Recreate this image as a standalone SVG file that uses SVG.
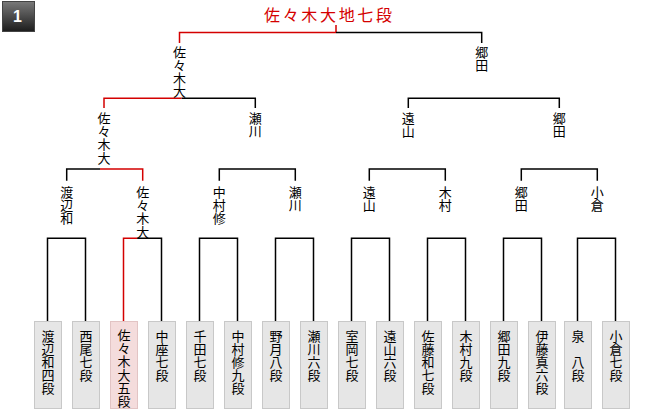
<svg xmlns="http://www.w3.org/2000/svg" width="660" height="410" viewBox="0 0 660 410">
<defs>
<linearGradient id="badgeGrad" x1="0" y1="0" x2="0" y2="1">
<stop offset="0" stop-color="#7a7a7a"/>
<stop offset="1" stop-color="#1c1c1c"/>
</linearGradient>
<style>
.lbl{font-family:"Noto Sans CJK JP","Liberation Sans",sans-serif;font-size:13px;fill:#000;text-anchor:middle}
.champ{font-family:"Noto Sans CJK JP","Liberation Sans",sans-serif;font-size:16px;fill:#d40000}
.box{fill:#e6e6e6;stroke:#c8c8c8;stroke-width:1}
.boxw{fill:#f4dcdc;stroke:#e2c4c4;stroke-width:1}
.ln{fill:none;stroke:#000;stroke-width:1.5}
.lr{fill:none;stroke:#d40000;stroke-width:1.5}
</style>
</defs>
<rect width="660" height="410" fill="#fff"/>
<g id="badge">
<rect x="2.5" y="1.5" width="32" height="30" fill="url(#badgeGrad)" stroke="#444" stroke-width="1"/>
<text x="17.5" y="22" font-family="Liberation Sans, sans-serif" font-size="16" font-weight="bold" fill="#fff" text-anchor="middle">1</text>
</g>
<g id="connectors">
<path class="lr" d="M336,25 V32.5 M179.5,43 V32.5 H336"/>
<path class="ln" d="M336,32.5 H481.7 V43"/>
<path class="lr" d="M104,108 V98.3 H181.7"/>
<path class="ln" d="M181.7,98.3 H255.3 V108"/>
<path class="ln" d="M408.3,108 V98.3 H559.3 V108"/>
<path class="ln" d="M66.7,180.7 V169 H100"/>
<path class="lr" d="M100,169 H142.7 V180.7"/>
<path class="ln" d="M219.3,180.7 V169 H295.3 V180.7"/>
<path class="ln" d="M369.3,180.7 V169 H445.3 V180.7"/>
<path class="ln" d="M521.3,180.7 V169 H597.3 V180.7"/>
<path class="ln" d="M47.5,321 V238.3 H85.5 V321"/>
<path class="lr" d="M123.5,321 V238.3 H137.3"/>
<path class="ln" d="M137.3,238.3 H161.5 V321"/>
<path class="ln" d="M199.5,321 V238.3 H237.5 V321"/>
<path class="ln" d="M275.5,321 V238.3 H313.5 V321"/>
<path class="ln" d="M351.5,321 V238.3 H389.5 V321"/>
<path class="ln" d="M427.5,321 V238.3 H465.5 V321"/>
<path class="ln" d="M503.5,321 V238.3 H541.5 V321"/>
<path class="ln" d="M577.5,321 V238.3 H615.5 V321"/>
</g>
<g id="champion"><text class="champ" x="264" y="20.5" textLength="128" lengthAdjust="spacing">佐々木大地七段</text></g>
<g id="r0-sasaki"><text class="lbl" x="179.5" y="56.5"><tspan x="179.5">佐</tspan><tspan x="179.5" dy="13.2">々</tspan><tspan x="179.5" dy="13.2">木</tspan><tspan x="179.5" dy="13.2">大</tspan></text></g>
<g id="r0-goda"><text class="lbl" x="481.7" y="57"><tspan x="481.7">郷</tspan><tspan x="481.7" dy="13.2">田</tspan></text></g>
<g id="r1-sasaki"><text class="lbl" x="104" y="123"><tspan x="104">佐</tspan><tspan x="104" dy="13.2">々</tspan><tspan x="104" dy="13.2">木</tspan><tspan x="104" dy="13.2">大</tspan></text></g>
<g id="r1-segawa"><text class="lbl" x="255.3" y="123"><tspan x="255.3">瀬</tspan><tspan x="255.3" dy="13.2">川</tspan></text></g>
<g id="r1-toyama"><text class="lbl" x="408.3" y="123"><tspan x="408.3">遠</tspan><tspan x="408.3" dy="13.2">山</tspan></text></g>
<g id="r1-goda"><text class="lbl" x="559.3" y="123"><tspan x="559.3">郷</tspan><tspan x="559.3" dy="13.2">田</tspan></text></g>
<g id="r2-watanabe"><text class="lbl" x="66.7" y="197"><tspan x="66.7">渡</tspan><tspan x="66.7" dy="13.2">辺</tspan><tspan x="66.7" dy="13.2">和</tspan></text></g>
<g id="r2-sasaki"><text class="lbl" x="142.7" y="197"><tspan x="142.7">佐</tspan><tspan x="142.7" dy="13.2">々</tspan><tspan x="142.7" dy="13.2">木</tspan><tspan x="142.7" dy="13.2">大</tspan></text></g>
<g id="r2-nakamura"><text class="lbl" x="219.3" y="197"><tspan x="219.3">中</tspan><tspan x="219.3" dy="13.2">村</tspan><tspan x="219.3" dy="13.2">修</tspan></text></g>
<g id="r2-segawa"><text class="lbl" x="295.3" y="197"><tspan x="295.3">瀬</tspan><tspan x="295.3" dy="13.2">川</tspan></text></g>
<g id="r2-toyama"><text class="lbl" x="369.3" y="197"><tspan x="369.3">遠</tspan><tspan x="369.3" dy="13.2">山</tspan></text></g>
<g id="r2-kimura"><text class="lbl" x="445.3" y="197"><tspan x="445.3">木</tspan><tspan x="445.3" dy="13.2">村</tspan></text></g>
<g id="r2-goda"><text class="lbl" x="521.3" y="197"><tspan x="521.3">郷</tspan><tspan x="521.3" dy="13.2">田</tspan></text></g>
<g id="r2-ogura"><text class="lbl" x="597.3" y="197"><tspan x="597.3">小</tspan><tspan x="597.3" dy="13.2">倉</tspan></text></g>
<g id="p01"><rect class="box" x="34.5" y="321.5" width="27" height="87"/><text class="lbl" x="48" y="340.5"><tspan x="48">渡</tspan><tspan x="48" dy="13.2">辺</tspan><tspan x="48" dy="13.2">和</tspan><tspan x="48" dy="13.2">四</tspan><tspan x="48" dy="13.2">段</tspan></text></g>
<g id="p02"><rect class="box" x="72.5" y="321.5" width="27" height="87"/><text class="lbl" x="86" y="340.5"><tspan x="86">西</tspan><tspan x="86" dy="13.2">尾</tspan><tspan x="86" dy="13.2">七</tspan><tspan x="86" dy="13.2">段</tspan></text></g>
<g id="p03"><rect class="boxw" x="110.5" y="321.5" width="27" height="87"/><text class="lbl" x="124" y="340"><tspan x="124">佐</tspan><tspan x="124" dy="13.2">々</tspan><tspan x="124" dy="13.2">木</tspan><tspan x="124" dy="13.2">大</tspan><tspan x="124" dy="13.2">五</tspan><tspan x="124" dy="13.2">段</tspan></text></g>
<g id="p04"><rect class="box" x="148.5" y="321.5" width="27" height="87"/><text class="lbl" x="162" y="340.5"><tspan x="162">中</tspan><tspan x="162" dy="13.2">座</tspan><tspan x="162" dy="13.2">七</tspan><tspan x="162" dy="13.2">段</tspan></text></g>
<g id="p05"><rect class="box" x="186.5" y="321.5" width="27" height="87"/><text class="lbl" x="200" y="340.5"><tspan x="200">千</tspan><tspan x="200" dy="13.2">田</tspan><tspan x="200" dy="13.2">七</tspan><tspan x="200" dy="13.2">段</tspan></text></g>
<g id="p06"><rect class="box" x="224.5" y="321.5" width="27" height="87"/><text class="lbl" x="238" y="340.5"><tspan x="238">中</tspan><tspan x="238" dy="13.2">村</tspan><tspan x="238" dy="13.2">修</tspan><tspan x="238" dy="13.2">九</tspan><tspan x="238" dy="13.2">段</tspan></text></g>
<g id="p07"><rect class="box" x="262.5" y="321.5" width="27" height="87"/><text class="lbl" x="276" y="340.5"><tspan x="276">野</tspan><tspan x="276" dy="13.2">月</tspan><tspan x="276" dy="13.2">八</tspan><tspan x="276" dy="13.2">段</tspan></text></g>
<g id="p08"><rect class="box" x="300.5" y="321.5" width="27" height="87"/><text class="lbl" x="314" y="340.5"><tspan x="314">瀬</tspan><tspan x="314" dy="13.2">川</tspan><tspan x="314" dy="13.2">六</tspan><tspan x="314" dy="13.2">段</tspan></text></g>
<g id="p09"><rect class="box" x="338.5" y="321.5" width="27" height="87"/><text class="lbl" x="352" y="340.5"><tspan x="352">室</tspan><tspan x="352" dy="13.2">岡</tspan><tspan x="352" dy="13.2">七</tspan><tspan x="352" dy="13.2">段</tspan></text></g>
<g id="p10"><rect class="box" x="376.5" y="321.5" width="27" height="87"/><text class="lbl" x="390" y="340.5"><tspan x="390">遠</tspan><tspan x="390" dy="13.2">山</tspan><tspan x="390" dy="13.2">六</tspan><tspan x="390" dy="13.2">段</tspan></text></g>
<g id="p11"><rect class="box" x="414.5" y="321.5" width="27" height="87"/><text class="lbl" x="428" y="340.5"><tspan x="428">佐</tspan><tspan x="428" dy="13.2">藤</tspan><tspan x="428" dy="13.2">和</tspan><tspan x="428" dy="13.2">七</tspan><tspan x="428" dy="13.2">段</tspan></text></g>
<g id="p12"><rect class="box" x="452.5" y="321.5" width="27" height="87"/><text class="lbl" x="466" y="340.5"><tspan x="466">木</tspan><tspan x="466" dy="13.2">村</tspan><tspan x="466" dy="13.2">九</tspan><tspan x="466" dy="13.2">段</tspan></text></g>
<g id="p13"><rect class="box" x="490.5" y="321.5" width="27" height="87"/><text class="lbl" x="504" y="340.5"><tspan x="504">郷</tspan><tspan x="504" dy="13.2">田</tspan><tspan x="504" dy="13.2">九</tspan><tspan x="504" dy="13.2">段</tspan></text></g>
<g id="p14"><rect class="box" x="528.5" y="321.5" width="27" height="87"/><text class="lbl" x="542" y="340.5"><tspan x="542">伊</tspan><tspan x="542" dy="13.2">藤</tspan><tspan x="542" dy="13.2">真</tspan><tspan x="542" dy="13.2">六</tspan><tspan x="542" dy="13.2">段</tspan></text></g>
<g id="p15"><rect class="box" x="564.5" y="321.5" width="27" height="87"/><text class="lbl" x="578" y="340.5"><tspan x="578">泉</tspan><tspan x="578" dy="26.4">八</tspan><tspan x="578" dy="13.2">段</tspan></text></g>
<g id="p16"><rect class="box" x="602.5" y="321.5" width="27" height="87"/><text class="lbl" x="616" y="340.5"><tspan x="616">小</tspan><tspan x="616" dy="13.2">倉</tspan><tspan x="616" dy="13.2">七</tspan><tspan x="616" dy="13.2">段</tspan></text></g>
</svg>
